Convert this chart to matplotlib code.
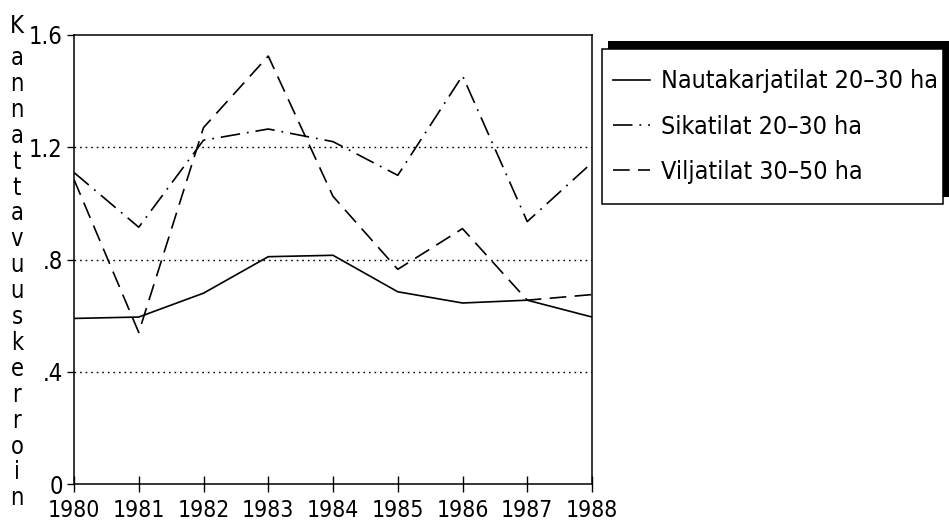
import matplotlib
matplotlib.use("Agg")
import matplotlib.pyplot as plt
from matplotlib.patches import Rectangle

plt.rcParams['font.family'] = ['DejaVu Sans']
plt.rcParams['font.stretch'] = 'condensed'
plt.rcParams['lines.scale_dashes'] = False

# data
years = [1980, 1981, 1982, 1983, 1984, 1985, 1986, 1987, 1988]
nauta = [0.59, 0.595, 0.68, 0.81, 0.815, 0.685, 0.645, 0.655, 0.595]
sika = [1.11, 0.915, 1.225, 1.265, 1.22, 1.10, 1.455, 0.935, 1.145]
vilja = [1.085, 0.54, 1.27, 1.525, 1.025, 0.765, 0.91, 0.655, 0.675]
series_names = ['Nautakarjatilat 20\u201330 ha', 'Sikatilat 20\u201330 ha', 'Viljatilat 30\u201350 ha']
y_ticks = [0, 0.4, 0.8, 1.2, 1.6]
y_tick_labels = ['0', '.4', '.8', '1.2', '1.6']
y_title = 'Kannattavuuskerroin'

W, H = 949, 527
fig = plt.figure(figsize=(W / 100, H / 100), dpi=100)
ax = fig.add_axes([74/W, 43/H, (592-74)/W, (484-35)/H])

lw = 1.2
ax.plot(years, nauta, color='black', lw=lw, linestyle='-', label=series_names[0])
ax.plot(years, sika, color='black', lw=lw, linestyle=(0, (14, 5, 1.3, 5)), label=series_names[1])
ax.plot(years, vilja, color='black', lw=lw, linestyle=(0, (12, 6)), label=series_names[2])

# dotted reference lines
for yv in y_ticks[1:-1]:
    ax.axhline(yv, color='black', lw=1.0, linestyle=(0, (1.2, 2.8)), zorder=1)

ax.set_xlim(years[0], years[-1])
ax.set_ylim(0, 1.6)
ax.set_xticks(years)
ax.set_xticklabels([str(y) for y in years], fontsize=16.5)
ax.set_yticks(y_ticks)
ax.set_yticklabels(y_tick_labels, fontsize=17)
ax.tick_params(axis='x', direction='inout', length=11, width=1.0, pad=5)
ax.tick_params(axis='y', direction='out', length=5, width=1.0, pad=3)
for sp in ax.spines.values():
    sp.set_linewidth(1.1)

# axis title written one letter per row
baselines = [33] + [65 + 25.9 * k for k in range(len(y_title) - 1)]
for ch, yb in zip(y_title, baselines):
    fig.text(17/W, 1 - yb/H, ch, fontsize=17, ha='center', va='baseline')

# legend box with a black shadow up and to the right
fig.add_artist(Rectangle((608/W, 1 - 197/H), (949-608)/W, (197-41)/H,
                         facecolor='black', edgecolor='none', zorder=3))
fig.add_artist(Rectangle((602/W, 1 - 204/H), (943-602)/W, (204-49)/H,
                         facecolor='white', edgecolor='black', lw=1.1, zorder=4))
leg = fig.legend(loc='upper left', bbox_to_anchor=(602/W, 1 - 58/H),
                 fontsize=18, frameon=False,
                 handlelength=1.45, handletextpad=0.45, labelspacing=0.85,
                 borderpad=0.45, borderaxespad=0)
leg.set_zorder(5)

fig.savefig('out.png', dpi=100)
